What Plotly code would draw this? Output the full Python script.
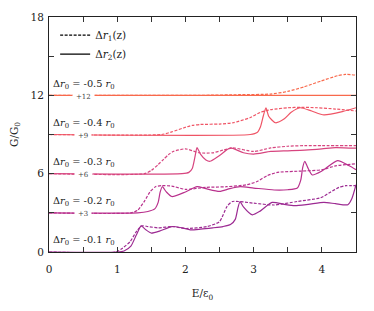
import plotly.graph_objects as go

# ---------------- data ----------------
shifts = [-0.1, -0.2, -0.3, -0.4, -0.5]
offsets = [0, 3, 6, 9, 12]
colors = ["#9c2a92", "#b9318d", "#d7457f", "#ef5465", "#f8694c"]

# solid: Delta r2(z); dashed: Delta r1(z)  (values without offset)
s1_E = [0, 1.0, 1.1, 1.2, 1.28, 1.35, 1.42, 1.5, 1.62, 1.8, 1.95, 2.07, 2.22, 2.4, 2.55, 2.66, 2.73, 2.77, 2.8, 2.85, 2.98, 3.1, 3.27, 3.45, 3.6, 3.8, 4.03, 4.2, 4.38, 4.44, 4.5]
s1_G = [0, 0, 0.08, 0.45, 1.3, 2.0, 1.7, 1.45, 1.6, 1.95, 1.85, 1.7, 1.75, 1.85, 1.95, 2.1, 2.5, 3.4, 3.87, 3.45, 2.85, 3.15, 3.8, 3.65, 3.55, 3.65, 3.8, 3.7, 3.62, 4.1, 5.15]
d1_E = [0, 0.98, 1.08, 1.19, 1.28, 1.36, 1.45, 1.6, 1.82, 2.0, 2.32, 2.5, 2.61, 2.69, 3.0, 3.3, 3.64, 3.98, 4.13, 4.25, 4.35, 4.5]
d1_G = [0, 0, 0.3, 0.8, 1.56, 2.0, 1.95, 1.85, 1.95, 1.8, 1.95, 2.33, 3.5, 3.87, 3.74, 3.6, 3.87, 4.15, 4.6, 4.95, 5.08, 5.08]

s2_E = [0, 1.3, 1.45, 1.55, 1.6, 1.63, 1.66, 1.72, 1.8, 2.0, 2.17, 2.3, 2.5, 2.65, 2.8, 3.0, 3.3, 3.5, 3.64, 3.69, 3.72, 3.75, 3.79, 3.86, 4.0, 4.23, 4.4, 4.5]
s2_G = [0, 0, 0.1, 0.3, 0.8, 1.6, 2.0, 1.6, 1.25, 1.6, 2.0, 1.85, 1.64, 1.85, 2.0, 1.9, 1.75, 1.77, 1.9, 2.5, 3.5, 3.95, 3.5, 2.9, 3.2, 4.0, 3.6, 3.3]
d2_E = [0, 1.2, 1.3, 1.4, 1.48, 1.56, 1.65, 1.8, 2.0, 2.3, 2.6, 2.9, 3.05, 3.2, 3.35, 3.7, 4.0, 4.2, 4.5]
d2_G = [0, 0, 0.2, 0.9, 1.6, 2.0, 2.08, 2.05, 1.8, 1.95, 2.0, 2.15, 2.4, 2.85, 3.1, 3.2, 3.3, 3.6, 3.75]

s3_E = [0, 1.95, 2.05, 2.1, 2.14, 2.17, 2.22, 2.3, 2.36, 2.5, 2.66, 2.85, 3.0, 3.25, 3.5, 3.75, 4.0, 4.2, 4.5]
s3_G = [0, 0, 0.1, 0.4, 1.3, 2.0, 1.5, 1.05, 0.95, 1.4, 1.97, 1.6, 1.5, 1.7, 1.75, 1.8, 1.9, 2.0, 1.95]
d3_E = [0, 1.4, 1.5, 1.6, 1.68, 1.75, 1.82, 2.0, 2.2, 2.4, 2.55, 2.7, 3.0, 3.25, 3.5, 3.75, 4.0, 4.5]
d3_G = [0, 0, 0.25, 0.7, 1.1, 1.45, 1.7, 1.9, 1.6, 1.6, 1.8, 1.97, 1.7, 1.97, 2.1, 2.15, 2.15, 2.15]

s4_E = [0, 2.95, 3.05, 3.1, 3.14, 3.18, 3.22, 3.32, 3.45, 3.55, 3.68, 3.85, 4.03, 4.3, 4.5]
s4_G = [0, 0, 0.15, 0.6, 1.4, 2.05, 1.4, 0.9, 1.2, 1.7, 2.05, 1.8, 1.5, 1.75, 2.05]
d4_E = [0, 1.65, 1.8, 1.97, 2.1, 2.22, 2.5, 2.7, 2.95, 3.1, 3.25, 3.5, 3.7, 3.93, 4.2, 4.5]
d4_G = [0, 0, 0.2, 0.5, 0.7, 0.77, 0.8, 0.9, 1.3, 1.7, 1.9, 2.05, 2.08, 2.05, 1.95, 1.8]

s5_E = [0, 4.5]
s5_G = [0, 0]
d5_E = [0, 2.2, 2.8, 3.25, 3.5, 3.74, 3.99, 4.23, 4.35, 4.5]
d5_G = [0, 0, 0.05, 0.1, 0.3, 0.65, 1.1, 1.5, 1.6, 1.55]

solid_E = [s1_E, s2_E, s3_E, s4_E, s5_E]
solid_G = [s1_G, s2_G, s3_G, s4_G, s5_G]
dash_E = [d1_E, d2_E, d3_E, d4_E, d5_E]
dash_G = [d1_G, d2_G, d3_G, d4_G, d5_G]

x_ticks = [0, 0.5, 1, 1.5, 2, 2.5, 3, 3.5, 4, 4.5]
x_labels = ["0", "", "1", "", "2", "", "3", "", "4", ""]
y_ticks = [0, 3, 6, 9, 12, 15, 18]
y_labels = ["0", "", "6", "", "12", "", "18"]

# ---------------- figure ----------------
FONT = "DejaVu Serif"
fig = go.Figure()

for i in range(5):
    off = offsets[i]
    fig.add_trace(go.Scatter(
        x=dash_E[i], y=[g + off for g in dash_G[i]], mode="lines",
        line=dict(color=colors[i], width=1.2, dash="3px,1.5px", shape="spline", smoothing=0.6),
        showlegend=False, hoverinfo="skip"))
    fig.add_trace(go.Scatter(
        x=solid_E[i], y=[g + off for g in solid_G[i]], mode="lines",
        line=dict(color=colors[i], width=1.2, shape="spline", smoothing=0.6),
        showlegend=False, hoverinfo="skip"))

# legend entries
fig.add_trace(go.Scatter(x=[None], y=[None], mode="lines",
                         line=dict(color="black", width=1.2, dash="3px,1.5px"),
                         name="Δ<i>r</i><sub>1</sub>(z)"))
fig.add_trace(go.Scatter(x=[None], y=[None], mode="lines",
                         line=dict(color="black", width=1.2),
                         name="Δ<i>r</i><sub>2</sub>(z)"))

annotations = []
for i in range(1, 5):
    annotations.append(dict(
        x=0.5, y=offsets[i] - 0.12, xref="x", yref="y",
        text="+%d" % offsets[i], showarrow=False,
        font=dict(family=FONT, size=7, color="#444"),
        bgcolor="white", borderpad=3))
for i in range(5):
    annotations.append(dict(
        x=0.03, y=offsets[i] + 0.85, xref="x", yref="y", xanchor="left",
        text="Δ<i>r</i><sub>0</sub> = %s <i>r</i><sub>0</sub>" % shifts[i],
        showarrow=False, font=dict(family=FONT, size=9.8, color="#222")))

# the page body has an 8px margin: figure is placed at (8, 8)
fig.update_layout(
    width=366, height=303,
    margin=dict(l=41, r=18, t=9, b=59),
    paper_bgcolor="white", plot_bgcolor="white",
    font=dict(family=FONT, size=10, color="#222"),
    annotations=annotations,
    legend=dict(x=0.02, y=0.985, xanchor="left", yanchor="top",
                bgcolor="rgba(0,0,0,0)", font=dict(family=FONT, size=10.5, color="#222"),
                tracegroupgap=0),
    xaxis=dict(range=[0, 4.5], tickvals=x_ticks, ticktext=x_labels,
               ticks="inside", ticklen=5, tickcolor="#333", showgrid=False,
               zeroline=False, showline=True, linecolor="#222", linewidth=1,
               mirror="ticks", automargin=False, ticklabelstandoff=7,
               tickfont=dict(family=FONT, size=10.5),
               title=dict(text="E/ε<sub>0</sub>", standoff=16,
                          font=dict(family=FONT, size=10.5))),
    yaxis=dict(range=[0, 18], tickvals=y_ticks, ticktext=y_labels,
               ticks="inside", ticklen=5, tickcolor="#333", showgrid=False,
               zeroline=False, showline=True, linecolor="#222", linewidth=1,
               mirror="ticks", automargin=False, ticklabelstandoff=2,
               tickfont=dict(family=FONT, size=10.5),
               title=dict(text="G/G<sub>0</sub>", standoff=12,
                          font=dict(family=FONT, size=10.5))),
)

fig.write_html("out.html")
